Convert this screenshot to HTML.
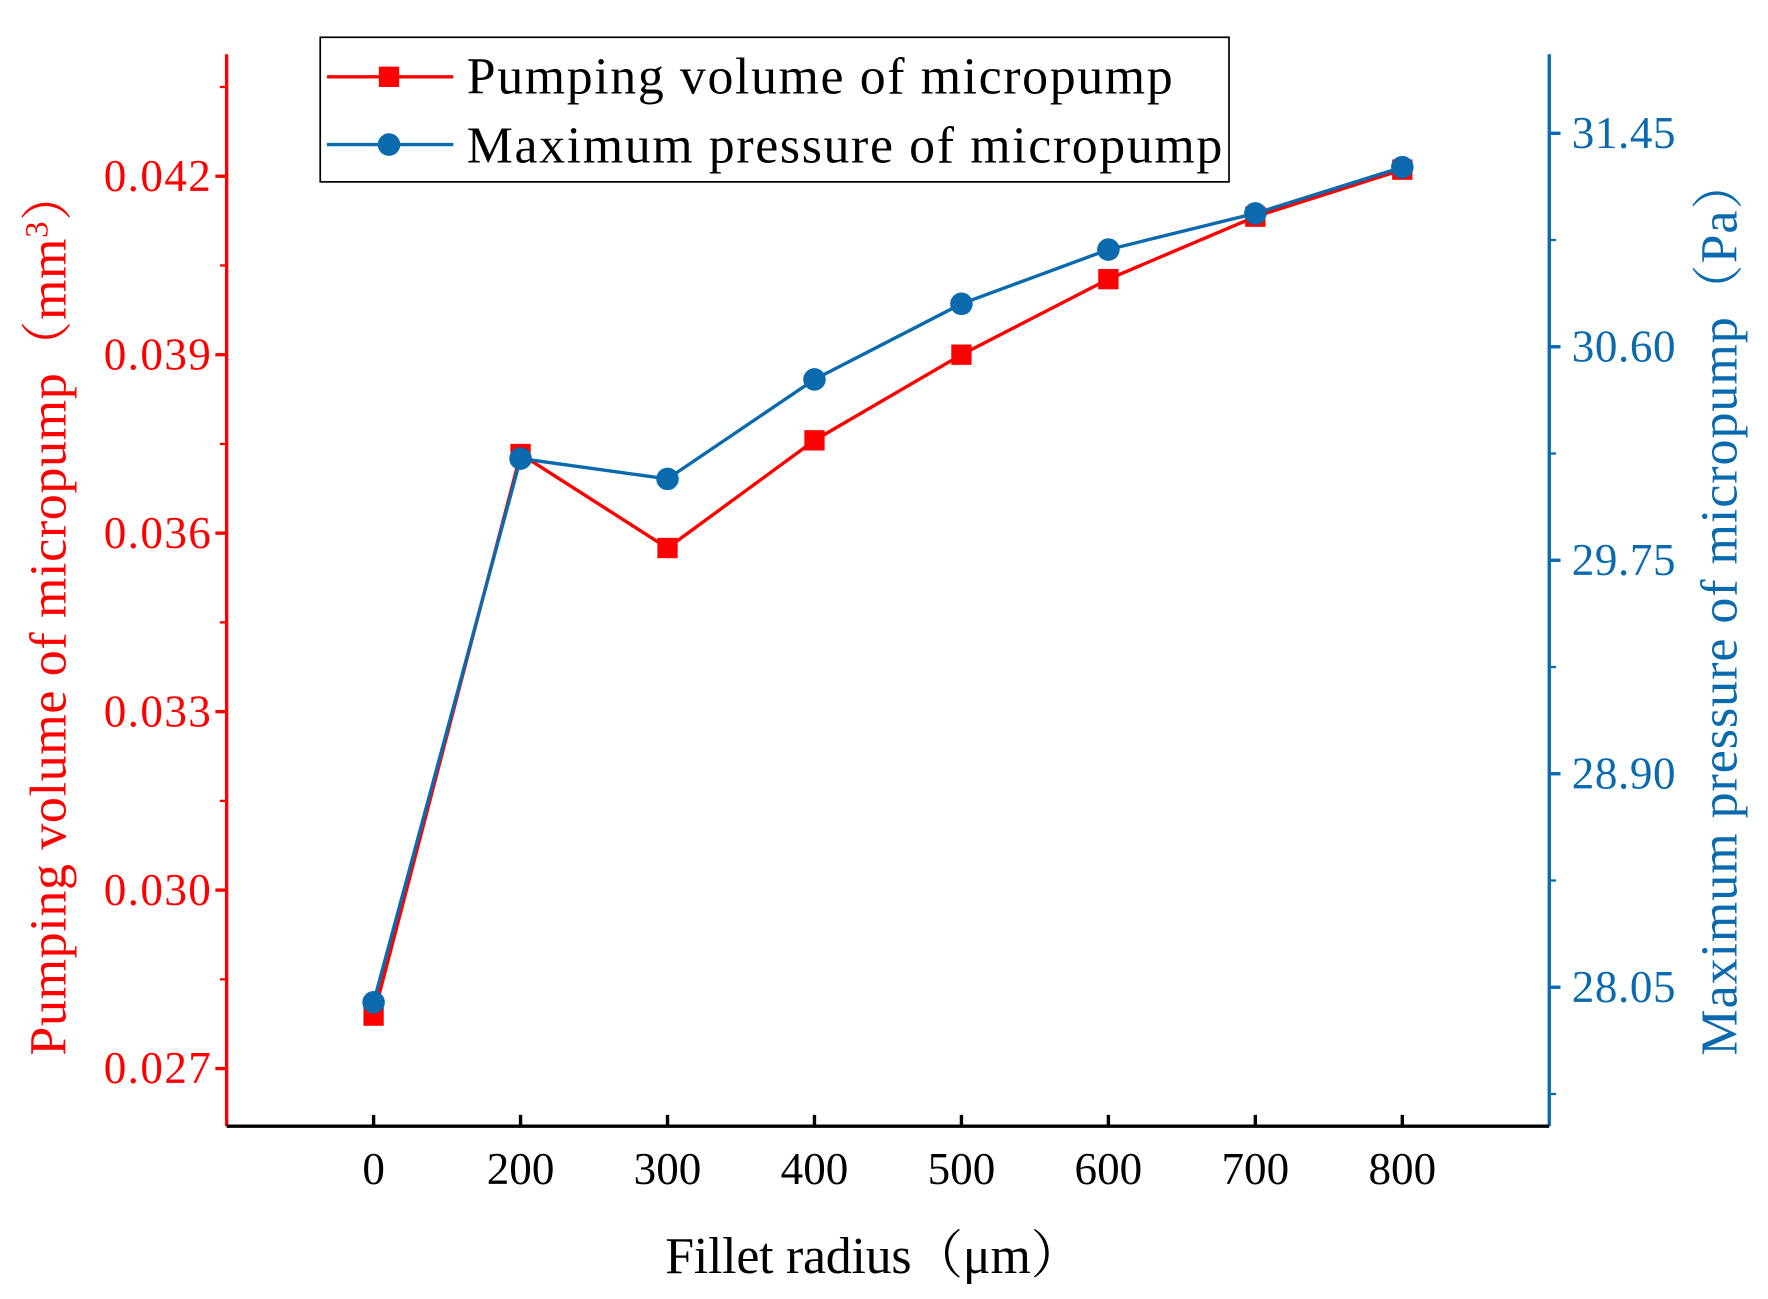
<!DOCTYPE html>
<html><head><meta charset="utf-8"><style>
html,body{margin:0;padding:0;background:#fff;}
svg{display:block;}
text{font-family:"Liberation Serif","Noto Serif CJK SC",serif;}
</style></head><body>
<svg id="chart" width="1768" height="1299" viewBox="0 0 1568 1150" preserveAspectRatio="none" xmlns="http://www.w3.org/2000/svg"></svg>
<script>
const categories = ["0","200","300","400","500","600","700","800"];
const volumeValues = [0.02789,0.03733,0.03575,0.03756,0.0390,0.04027,0.04132,0.04211];
const pressureValues = [27.99,30.155,30.074,30.47,30.771,30.987,31.131,31.315];
const leftTicks = ["0.027","0.030","0.033","0.036","0.039","0.042"];
const rightTicks = ["28.05","28.90","29.75","30.60","31.45"];

const svg = document.getElementById('chart');
const NS = 'http://www.w3.org/2000/svg';
const L = 201, R = 1374, T = 48, B = 997;
const RED = '#ff0000', BLUE = '#0a6aad';
function xS(i){ return L + (i + 1) * (R - L) / 9; }
function yL(v){ return 156 + (0.042 - v) / 0.003 * 158; }
function yR(v){ return 118 + (31.45 - v) / 0.85 * 189; }
function mk(tag, attrs, parent){
  const e = document.createElementNS(NS, tag);
  for (const k in attrs) e.setAttribute(k, attrs[k]);
  (parent || svg).appendChild(e);
  return e;
}
let a = mk('line',{x1:L,y1:T,x2:L,y2:B,stroke:RED,'stroke-width':3});


a = mk('line',{x1:R,y1:T,x2:R,y2:B,stroke:BLUE,'stroke-width':3});


a = mk('line',{x1:L,y1:B,x2:R,y2:B,stroke:'#000','stroke-width':3});



leftTicks.forEach(t => {
  const v = parseFloat(t), y = yL(v);
  mk('line',{x1:L-10,y1:y,x2:L,y2:y,stroke:RED,'stroke-width':3});
  const ym = yL(v + 0.0015);
  if (ym > T) mk('line',{x1:L-6,y1:ym,x2:L,y2:ym,stroke:RED,'stroke-width':2});
  const tx = mk('text',{x:L-14,y:y+13,'text-anchor':'end','font-size':40,fill:RED,textLength:95});
  tx.textContent = t;
  
  
});
rightTicks.forEach(t => {
  const v = parseFloat(t), y = yR(v);
  mk('line',{x1:R,y1:y,x2:R+10,y2:y,stroke:BLUE,'stroke-width':3});
  const ym = yR(v - 0.425);
  if (ym < B) mk('line',{x1:R,y1:ym,x2:R+6,y2:ym,stroke:BLUE,'stroke-width':2});
  const tx = mk('text',{x:R+20,y:y+13,'font-size':40,fill:BLUE,textLength:92});
  tx.textContent = t;
  
  
});
categories.forEach((c,i) => {
  const x = xS(i);
  mk('line',{x1:x,y1:B-10,x2:x,y2:B,stroke:'#000','stroke-width':3});
  const tx = mk('text',{x:x,y:1048,'text-anchor':'middle','font-size':40,fill:'#000'});
  tx.textContent = c;
  
  
});
const redPts = volumeValues.map((v,i)=>xS(i)+','+yL(v)).join(' ');
const rl = mk('polyline',{points:redPts,fill:'none',stroke:RED,'stroke-width':3});


volumeValues.forEach((v,i)=>{
  const s = mk('rect',{x:xS(i)-9,y:yL(v)-9,width:18,height:18,fill:RED});
  
  
});
const bluePts = pressureValues.map((v,i)=>xS(i)+','+yR(v)).join(' ');
const bl = mk('polyline',{points:bluePts,fill:'none',stroke:BLUE,'stroke-width':3});


pressureValues.forEach((v,i)=>{
  const c = mk('circle',{cx:xS(i),cy:yR(v),r:10,fill:BLUE});
  
  
});
const lg = mk('g',{});


mk('rect',{x:284,y:33,width:806,height:128,fill:'#fff',stroke:'#000','stroke-width':1.5},lg);
mk('line',{x1:290,y1:68,x2:402,y2:68,stroke:RED,'stroke-width':3},lg);
mk('rect',{x:336,y:59,width:18,height:18,fill:RED},lg);
let lt = mk('text',{x:414,y:83,'font-size':46,fill:'#000',textLength:626},lg);
lt.textContent = 'Pumping volume of micropump';


mk('line',{x1:290,y1:128,x2:402,y2:128,stroke:BLUE,'stroke-width':3},lg);
mk('circle',{cx:345,cy:128,r:10,fill:BLUE},lg);
lt = mk('text',{x:414,y:144,'font-size':46,fill:'#000',textLength:670},lg);
lt.textContent = 'Maximum pressure of micropump';


let t = mk('text',{x:775,y:1127,'text-anchor':'middle','font-size':46,fill:'#000',textLength:370});
t.textContent = 'Fillet radius（μm）';


t = mk('text',{transform:'translate(58,542) rotate(-90)','text-anchor':'middle','font-size':46,fill:RED,textLength:785});
t.innerHTML = 'Pumping volume of micropump（mm<tspan dy="-16" font-size="29">3</tspan><tspan dy="16">）</tspan>';


t = mk('text',{transform:'translate(1540,537) rotate(-90)','text-anchor':'middle','font-size':46,fill:BLUE,textLength:795});
t.textContent = 'Maximum pressure of micropump（Pa）';


</script>
</body></html>
